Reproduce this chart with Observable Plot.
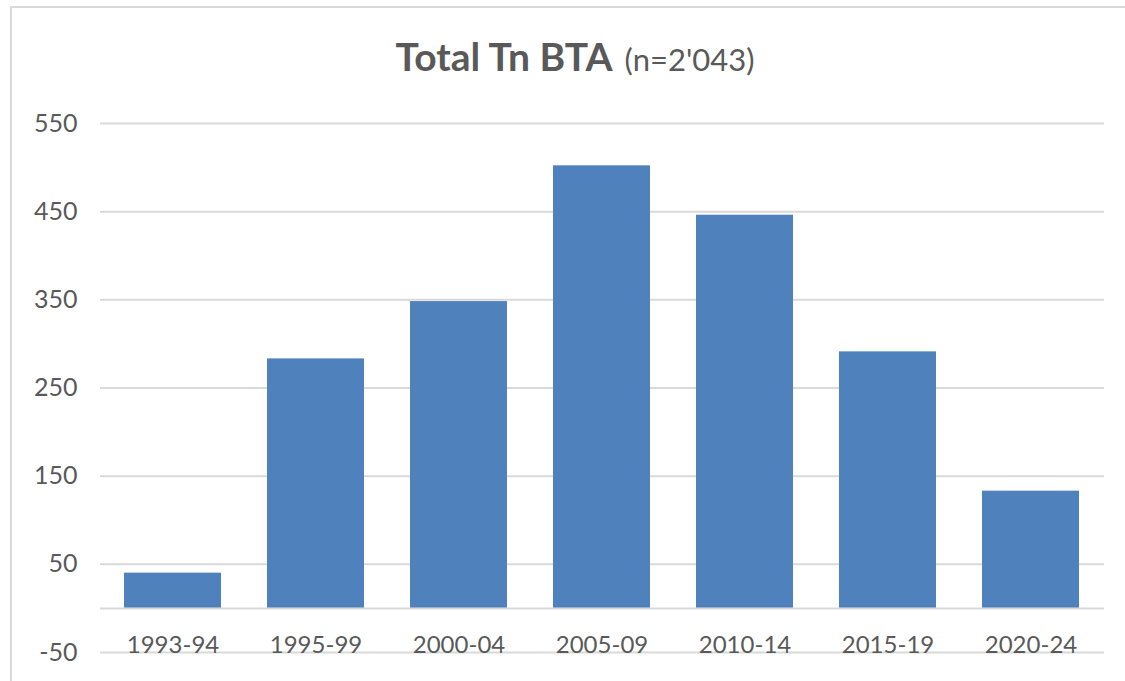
<!DOCTYPE html>
<html><head><meta charset="utf-8">
<script src="https://cdn.jsdelivr.net/npm/d3@7"></script>
<script src="https://cdn.jsdelivr.net/npm/@observablehq/plot@0.6"></script>
<style>
html,body{margin:0;padding:0;background:#fff;overflow:hidden;}
#wrap{position:relative;width:1125px;height:681px;overflow:hidden;}
#frame{position:absolute;left:10px;top:6px;width:1200px;height:800px;border-left:2px solid #d9d9d9;border-top:2px solid #d9d9d9;}
#title{position:absolute;left:25px;width:1100px;top:37px;text-align:center;font-family:Lato,"Liberation Sans",sans-serif;color:#595959;line-height:39px;white-space:nowrap;}
#title b{font-size:39px;font-weight:700}
#title span{font-size:31px;margin-left:12px;}
#chart{position:absolute;left:0;top:100px;}
</style></head>
<body><div id="wrap"><div id="frame"></div><div id="title"><b>Total Tn BTA</b><span>(n=2'043)</span></div><div id="chart"></div></div>
<script>
const periods = ["1993-94","1995-99","2000-04","2005-09","2010-14","2015-19","2020-24"];
const counts = [40, 283, 348, 502, 446, 291, 133];
const yTicks = [-50, 50, 150, 250, 350, 450, 550];
const data = periods.map((p, i) => ({period: p, count: counts[i]}));
const chart = Plot.plot({
  width: 1125, height: 581,
  marginTop: 23, marginBottom: 29, marginLeft: 100, marginRight: 21,
  style: {fontFamily: "Lato, 'Liberation Sans', sans-serif", fontSize: "24px", color: "#595959", background: "transparent"},
  x: {domain: periods, paddingInner: 0.32, paddingOuter: 0.16, label: null},
  y: {domain: [-50, 550], label: null},
  marks: [
    Plot.gridY(yTicks, {stroke: "#d9d9d9", strokeOpacity: 1, strokeWidth: 2}),
    Plot.barY(data, {x: "period", y: "count", fill: "#4f81bd"}),
    Plot.ruleY([0], {stroke: "#d9d9d9", strokeWidth: 2}),
    Plot.axisY(yTicks, {tickSize: 0, tickPadding: 23, label: null, fill: "#595959", fontSize: 25, tickFormat: d => String(d)}),
    Plot.axisX({anchor: "bottom", tickSize: 0, tickPadding: 0, lineAnchor: "bottom", label: null, fill: "#595959"})
  ]
});
document.getElementById("chart").appendChild(chart);
</script>
</body></html>
